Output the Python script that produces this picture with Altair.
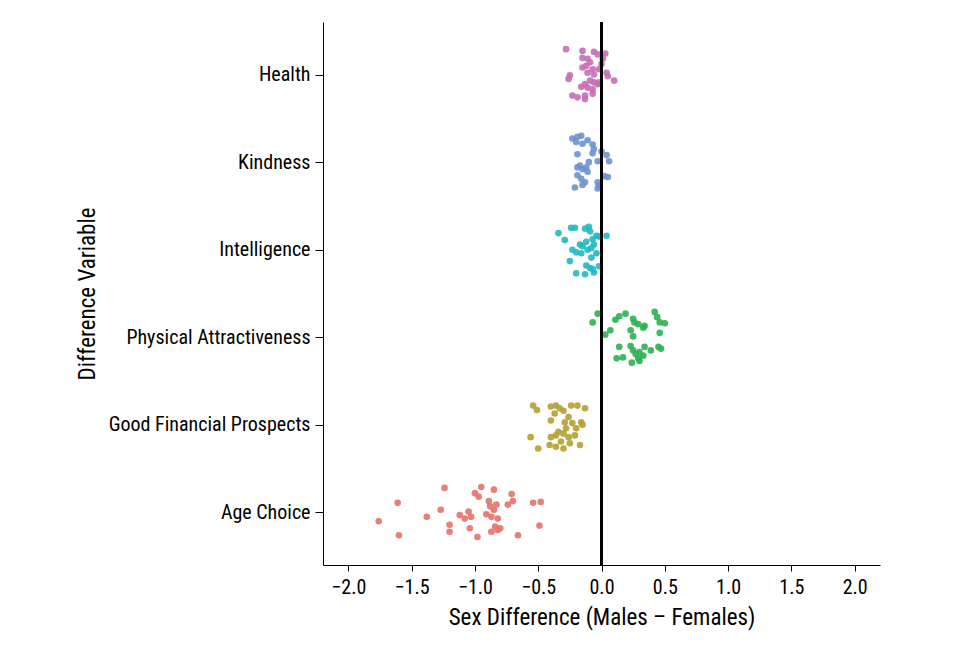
import altair as alt
import pandas as pd

categories = ["Age Choice", "Good Financial Prospects", "Physical Attractiveness",
              "Intelligence", "Kindness", "Health"]
colors = ["#E6726A", "#B4A034", "#2DB052", "#22B8C2", "#6E91CF", "#C66DB6"]

health_x = [-0.28, -0.15, -0.15, -0.11, -0.06, -0.03, 0.03, -0.09, -0.00, 0.01, -0.15, -0.07,
            -0.11, 0.04, 0.05, -0.25, -0.26, 0.10, -0.09, -0.06, -0.03, -0.13, -0.16, -0.11,
            -0.07, -0.02, -0.07, -0.23, -0.19, -0.13, -0.13, -0.06, -0.12, -0.02]
health_j = [0.29, 0.27, 0.19, 0.18, 0.26, 0.23, 0.24, 0.14, 0.12, 0.18, 0.08, 0.06,
            0.02, 0.02, -0.02, -0.01, -0.05, -0.07, -0.07, -0.09, -0.11, -0.11, -0.14, -0.15,
            -0.17, -0.09, -0.22, -0.24, -0.26, -0.24, -0.28, 0.00, 0.10, 0.06]

kind_x = [-0.23, -0.19, -0.16, -0.20, -0.15, -0.11, -0.07, -0.06, -0.00, 0.04, -0.07, -0.19,
          0.06, -0.03, -0.10, -0.17, -0.15, -0.11, -0.19, -0.19, -0.16, -0.13, -0.15, 0.02,
          0.05, -0.03, -0.02, -0.21, -0.03, -0.12]
kind_j = [0.27, 0.29, 0.30, 0.23, 0.21, 0.25, 0.20, 0.15, 0.12, 0.08, 0.10, 0.09,
          0.01, 0.01, 0.00, -0.04, -0.08, -0.11, -0.06, -0.15, -0.19, -0.23, -0.26, -0.16,
          -0.17, -0.23, -0.27, -0.29, -0.30, -0.06]

intel_x = [-0.34, -0.29, -0.24, -0.21, -0.13, -0.10, -0.09, -0.04, -0.02, 0.04, -0.07, -0.12,
           -0.17, -0.06, -0.08, -0.23, -0.20, -0.16, -0.04, -0.08, -0.25, -0.12, -0.09, -0.07,
           -0.02, -0.20, -0.13, -0.06, -0.11, -0.15]
intel_j = [0.19, 0.11, 0.25, 0.25, 0.24, 0.26, 0.21, 0.16, 0.15, 0.16, 0.12, 0.09,
           0.06, 0.06, 0.02, -0.00, -0.03, -0.04, -0.04, -0.09, -0.13, -0.18, -0.21, -0.22,
           -0.19, -0.27, -0.28, -0.26, 0.00, 0.04]

phys_x = [-0.07, -0.03, 0.03, 0.07, 0.11, 0.14, 0.19, 0.25, 0.26, 0.29, 0.33, 0.34,
          0.23, 0.25, 0.42, 0.44, 0.46, 0.50, 0.46, 0.14, 0.23, 0.25, 0.30, 0.34,
          0.39, 0.45, 0.47, 0.12, 0.17, 0.29, 0.30, 0.24, 0.33, 0.27]
phys_j = [0.17, 0.27, 0.03, 0.08, 0.20, 0.24, 0.27, 0.21, 0.17, 0.15, 0.11, 0.13,
          0.08, 0.01, 0.29, 0.23, 0.17, 0.16, 0.05, -0.11, -0.10, -0.15, -0.17, -0.11,
          -0.15, -0.11, -0.13, -0.24, -0.23, -0.24, -0.27, -0.29, -0.21, -0.19]

fin_x = [-0.54, -0.51, -0.40, -0.36, -0.33, -0.30, -0.24, -0.19, -0.13, -0.37, -0.40, -0.26,
         -0.29, -0.23, -0.16, -0.15, -0.20, -0.34, -0.36, -0.30, -0.26, -0.21, -0.40, -0.56,
         -0.41, -0.32, -0.25, -0.36, -0.50, -0.30, -0.17, -0.28]
fin_j = [0.22, 0.17, 0.21, 0.22, 0.19, 0.16, 0.22, 0.22, 0.19, 0.13, 0.05, 0.09,
         0.03, 0.02, 0.03, -0.00, -0.04, -0.08, -0.12, -0.10, -0.14, -0.12, -0.14, -0.14,
         -0.23, -0.19, -0.21, -0.25, -0.27, -0.27, -0.23, -0.04]

age_x = [-1.76, -1.61, -1.60, -1.38, -1.27, -1.24, -1.20, -1.20, -1.12, -1.08, -1.05, -1.03,
         -1.04, -1.00, -0.97, -0.98, -0.95, -0.89, -0.88, -0.91, -0.87, -0.85, -0.83, -0.85,
         -0.82, -0.87, -0.84, -0.82, -0.80, -0.74, -0.71, -0.70, -0.66, -0.54, -0.48, -0.49]
age_j = [-0.10, 0.11, -0.26, -0.05, 0.03, 0.28, -0.14, -0.22, -0.03, -0.07, 0.01, -0.05,
         -0.18, 0.22, 0.18, -0.28, 0.29, 0.13, 0.07, -0.02, -0.05, 0.03, 0.09, 0.26,
         -0.07, -0.22, -0.16, -0.20, -0.18, 0.09, 0.21, 0.13, -0.26, 0.11, 0.12, -0.15]

series = [(age_x, age_j), (fin_x, fin_j), (phys_x, phys_j),
          (intel_x, intel_j), (kind_x, kind_j), (health_x, health_j)]

rows = []
for i, (xs, js) in enumerate(series):
    for xv, jv in zip(xs, js):
        rows.append({"variable": categories[i], "diff": xv, "pos": i + jv})
df = pd.DataFrame(rows)

label_expr = "[" + ",".join("'" + c + "'" for c in categories) + "][datum.value]"

FONT = "Roboto Condensed, Liberation Sans Narrow, Arial Narrow, Liberation Sans, sans-serif"

points = alt.Chart(df).mark_circle(size=44, opacity=0.9).encode(
    x=alt.X("diff:Q",
            scale=alt.Scale(domain=[-2.2, 2.2], nice=False, zero=False),
            axis=alt.Axis(values=[-2, -1.5, -1, -0.5, 0, 0.5, 1, 1.5, 2], format=".1f",
                          title="Sex Difference (Males \u2013 Females)", grid=False,
                          domainColor="black", tickColor="black", tickSize=6,
                          labelFontSize=20, titleFontSize=23, labelColor="black",
                          titleColor="black", labelFont=FONT, titleFont=FONT,
                          titleFontWeight="normal", labelPadding=6, titlePadding=9)),
    y=alt.Y("pos:Q",
            scale=alt.Scale(domain=[-0.6, 5.6], nice=False, zero=False),
            axis=alt.Axis(values=[0, 1, 2, 3, 4, 5], labelExpr=label_expr,
                          title="Difference Variable", grid=False, labelLimit=400,
                          domainColor="black", tickColor="black", tickSize=8,
                          labelFontSize=20, titleFontSize=23, labelColor="black",
                          titleColor="black", labelFont=FONT, titleFont=FONT,
                          titleFontWeight="normal", labelPadding=5, titlePadding=24)),
    color=alt.Color("variable:N", scale=alt.Scale(domain=categories, range=colors),
                    legend=None),
)

zero_df = pd.DataFrame({"x0": [0.0]})
zero_line = alt.Chart(zero_df).mark_rule(color="black", strokeWidth=3).encode(
    x=alt.X("x0:Q", scale=alt.Scale(domain=[-2.2, 2.2], nice=False, zero=False))
)

chart = alt.layer(points, zero_line).properties(
    width=557, height=543, background="white",
    padding={"left": 68, "top": 12, "right": 5, "bottom": 5},
).configure_view(strokeWidth=0, stroke="transparent")

chart.save("out.html", embed_options={"renderer": "svg", "actions": False})
